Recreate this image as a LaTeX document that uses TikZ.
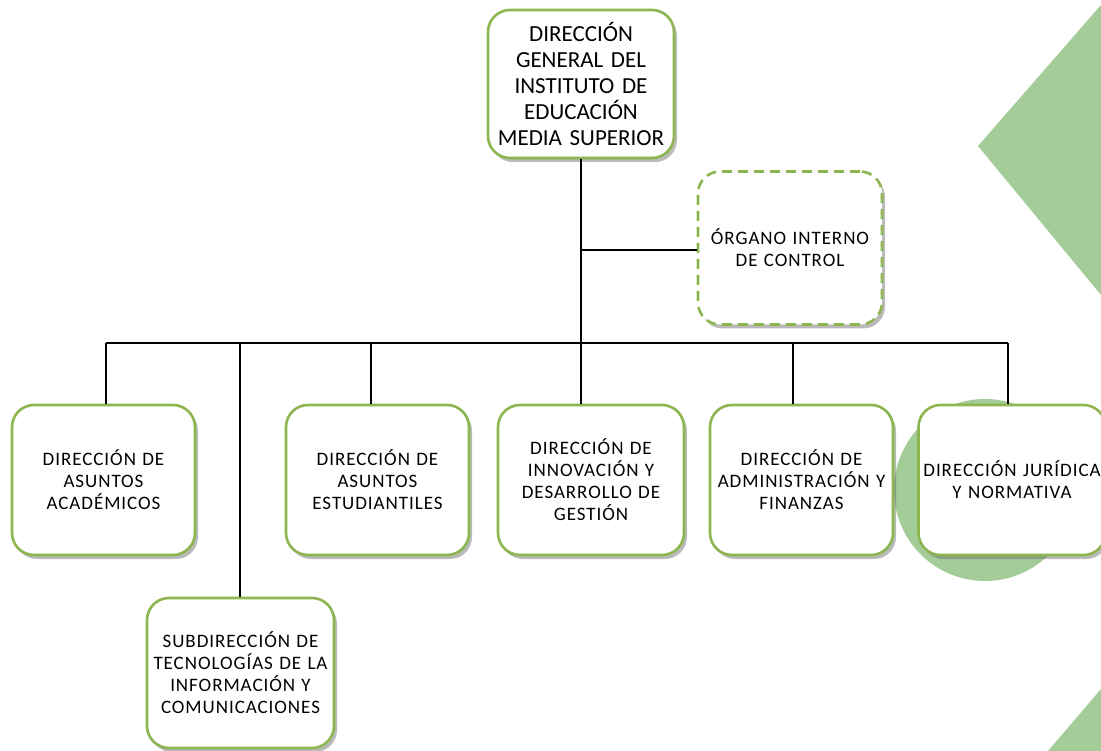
\documentclass[tikz,border=0pt]{standalone}
\usepackage{fontspec}
\setmainfont{Carlito}
\newfontfamily\spc[LetterSpace=5]{Carlito}
\usetikzlibrary{shadows}
\definecolor{boxgreen}{HTML}{8DB650}
\definecolor{bggreen}{HTML}{A4CC99}
\tikzset{
  orgbox/.style={draw=boxgreen, line width=2.6pt, fill=white, rounded corners=22pt,
    align=center, inner sep=1pt,
    drop shadow={shadow xshift=3pt, shadow yshift=-4pt, opacity=0.45, fill=black!60}},
  lowtxt/.style={font=\spc\fontsize{19}{22}\selectfont, text width=178pt},
  conn/.style={line width=2.2pt, black}
}
\begin{document}
\begin{tikzpicture}[x=1pt,y=-1pt]
\useasboundingbox (0,0) rectangle (1101,751);
% background shapes
\fill[bggreen] (1101,5) -- (978,146) -- (1101,295) -- cycle;
\fill[bggreen] (985,490) circle[radius=91];
\fill[bggreen] (1101,689) -- (1048,751) -- (1101,751) -- cycle;
% boxes
\node[orgbox, minimum width=186pt, minimum height=148pt, text width=184pt,
  font=\fontsize{23}{26}\selectfont] (top) at (581,84)
  {DIRECCIÓN\\GENERAL DEL\\INSTITUTO DE\\EDUCACIÓN\\MEDIA SUPERIOR};
\node[orgbox, dashed, dash pattern=on 10pt off 6pt, minimum width=184pt, minimum height=153pt, lowtxt] (oic) at (790,248)
  {ÓRGANO INTERNO\\DE CONTROL};
\node[orgbox, minimum width=183pt, minimum height=150pt, lowtxt] (b1) at (103.5,480)
  {DIRECCIÓN DE\\ASUNTOS\\ACADÉMICOS};
\node[orgbox, minimum width=183pt, minimum height=150pt, lowtxt] (b2) at (377.5,480)
  {DIRECCIÓN DE\\ASUNTOS\\ESTUDIANTILES};
\node[orgbox, minimum width=186pt, minimum height=150pt, lowtxt] (b3) at (591,480)
  {DIRECCIÓN DE\\INNOVACIÓN Y\\DESARROLLO DE\\GESTIÓN};
\node[orgbox, minimum width=183pt, minimum height=150pt, lowtxt] (b4) at (801.5,480)
  {DIRECCIÓN DE\\ADMINISTRACIÓN Y\\FINANZAS};
\node[orgbox, minimum width=176pt, minimum height=150pt, lowtxt, text width=185pt] (b5) at (1012,480)
  {DIRECCIÓN JURÍDICA\\Y NORMATIVA};
\node[orgbox, minimum width=185pt, minimum height=150pt, lowtxt, text width=185pt] (sub) at (240.5,673)
  {SUBDIRECCIÓN DE\\TECNOLOGÍAS DE LA\\INFORMACIÓN Y\\COMUNICACIONES};
% connectors
\coordinate (busL) at (106,343);
\coordinate (busR) at (1008,343);
\coordinate (x1) at (106,343);
\coordinate (x2) at (240,343);
\coordinate (x3) at (371,343);
\coordinate (x4) at (793,343);
\coordinate (oicj) at (581,250);
\draw[conn] (top.south) -- (top.south |- b3.north);
\draw[conn] (oicj) -- (oicj -| oic.west);
\draw[conn] (busL) -- (busR);
\draw[conn] (x1) -- (x1 |- b1.north);
\draw[conn] (x2) -- (x2 |- sub.north);
\draw[conn] (x3) -- (x3 |- b2.north);
\draw[conn] (x4) -- (x4 |- b4.north);
\draw[conn] (busR) -- (busR |- b5.north);
\end{tikzpicture}
\end{document}
